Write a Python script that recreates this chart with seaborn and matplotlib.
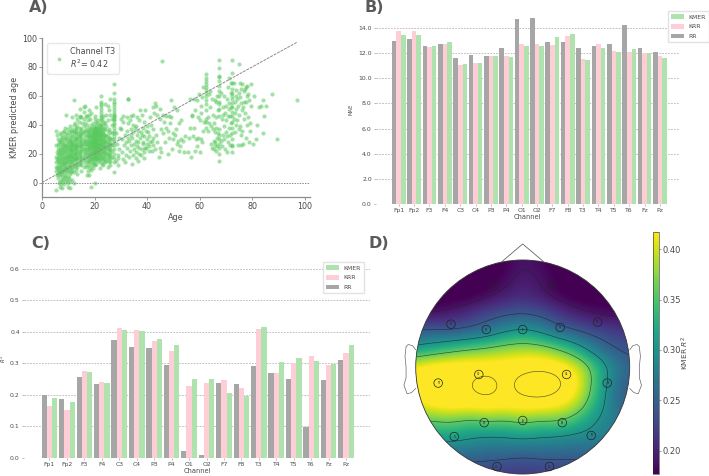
import numpy as np
import pandas as pd
import matplotlib
matplotlib.use('Agg')
import matplotlib.pyplot as plt
from matplotlib.patches import Circle, Polygon
from matplotlib.lines import Line2D
import seaborn as sns

W, H = 709, 476
TEXT = '#4a4a4a'
GREEN = '#aee3ae'
PINK = '#ffcdd6'
GREY = '#a6a6a6'

channels = ['Fp1', 'Fp2', 'F3', 'F4', 'C3', 'C4', 'P3', 'P4', 'O1', 'O2',
            'F7', 'F8', 'T3', 'T4', 'T5', 'T6', 'Fz', 'Pz']

mae_rr = [12.97, 13.1, 12.6, 12.73, 11.6, 11.85, 11.78, 12.4, 14.75, 14.8,
          12.88, 12.86, 12.4, 12.6, 12.7, 14.2, 12.4, 12.1]
mae_krr = [13.74, 13.77, 12.48, 12.73, 11.05, 11.25, 11.78, 11.8, 12.73, 12.7,
           12.65, 13.37, 11.55, 12.73, 12.18, 12.1, 12.04, 11.78]
mae_kmer = [13.45, 13.47, 12.6, 12.86, 11.17, 11.22, 11.8, 11.7, 12.57, 12.6,
            13.3, 13.53, 11.46, 12.44, 12.1, 12.3, 12.04, 11.6]

r2_rr = [.2, .186, .257, .235, .375, .352, .347, .293, .022, .008,
         .236, .234, .29, .268, .25, .097, .246, .31]
r2_krr = [.165, .153, .276, .241, .412, .404, .37, .339, .227, .239,
          .247, .221, .41, .27, .302, .324, .295, .333]
r2_kmer = [.19, .177, .273, .238, .405, .402, .376, .358, .249, .251,
           .207, .197, .416, .303, .316, .307, .299, .358]

# scatter: dense ages as columns of predictions
ages_young = [5.2, 5.7, 6.0, 6.4, 6.8, 7.2, 7.5, 7.9, 8.3, 8.7, 9.0, 9.4, 9.8, 10.1, 10.5, 10.9, 11.3, 11.6,
              12, 12.4, 12.8, 13.1, 13.5, 13.9, 14.3, 14.6, 15, 15.4, 15.8, 16.1, 16.5, 16.9]
preds_young = [
    [-5, 8, 11, 14, 18, 26, 36],
    [5, 10, 16, 21, 33],
    [3, 6, 9, 12, 15, 17, 20, 23, 26, 30],
    [0, 7, 10, 14, 19, 22, 28],
    [-3, 1, 5, 8, 11, 13, 16, 18, 21, 24, 27, 29, 34],
    [-1, 6, 10, 15, 20, 23, 30, 33],
    [-4, 2, 4, 7, 9, 12, 14, 17, 19, 22, 25, 28, 31],
    [1, 8, 13, 16, 21, 24, 27, 35],
    [-1, 3, 6, 9, 11, 13, 15, 18, 20, 23, 26, 29, 32, 36],
    [4, 10, 14, 17, 22, 25, 31, 38],
    [1, 5, 8, 10, 12, 14, 17, 19, 21, 24, 26, 30, 34, 47],
    [2, 9, 15, 18, 23, 28, 33],
    [-3, 0, 4, 7, 11, 13, 16, 18, 20, 22, 25, 27, 31, 37],
    [3, 10, 15, 19, 24, 29, 35],
    [-4, 1, 6, 9, 12, 15, 17, 19, 21, 23, 25, 28, 30, 33, 39],
    [7, 13, 18, 22, 26, 29, 36],
    [2, 8, 11, 14, 16, 18, 20, 22, 24, 26, 28, 31, 35, 45],
    [10, 15, 19, 23, 27, 32, 37],
    [0, 7, 12, 15, 17, 19, 21, 23, 25, 27, 29, 33, 36, 40, 57],
    [11, 16, 20, 24, 30, 35, 41],
    [9, 13, 16, 18, 20, 22, 24, 26, 28, 30, 34, 37, 47],
    [12, 17, 21, 25, 31, 38],
    [6, 11, 14, 17, 20, 23, 25, 27, 30, 32, 35, 39, 44],
    [13, 18, 22, 28, 33, 42],
    [13, 16, 19, 21, 24, 26, 29, 31, 34, 36, 45, 51],
    [15, 20, 25, 32, 38, 46],
    [8, 12, 15, 18, 22, 25, 28, 30, 33, 37, 45],
    [17, 23, 27, 34, 41],
    [11, 17, 20, 24, 27, 31, 35, 39, 49],
    [14, 22, 29, 36, 44, 52],
    [16, 19, 23, 26, 29, 33, 41, 53],
    [12, 21, 28, 37, 46],
]
ages_core = [17.2, 17.6, 18, 18.4, 18.7, 19.0, 19.4, 19.7, 20, 20.3, 20.7, 21.0, 21.4, 21.7, 22, 22.5,
             22.9, 23.2, 23.6, 24, 24.5, 25, 25.5, 26, 26.5, 27.5]
preds_core = [
    [5, 11, 15, 18, 21, 24, 27, 30, 33, 36, 40, 46],
    [8, 14, 19, 23, 26, 29, 32, 35, 43],
    [5, 12, 15, 17, 19, 21, 23, 25, 27, 29, 31, 33, 35, 38, 47, 50],
    [10, 16, 20, 24, 28, 32, 37, 44],
    [-3, 9, 14, 16, 18, 20, 22, 24, 26, 28, 30, 32, 34, 36, 40, 48],
    [12, 17, 21, 25, 27, 29, 31, 33, 38],
    [10, 14, 16, 18, 20, 21, 23, 24, 26, 27, 29, 30, 32, 33, 35, 37, 41],
    [13, 19, 22, 25, 28, 31, 34, 36, 39],
    [0, 12, 15, 17, 19, 21, 22, 24, 25, 27, 28, 30, 31, 33, 34, 36, 38, 44],
    [16, 20, 23, 26, 29, 32, 35, 37, 46],
    [13, 16, 18, 20, 22, 23, 25, 26, 28, 29, 31, 32, 34, 35, 37, 39, 42, 52],
    [18, 21, 24, 27, 30, 33, 36, 38, 41],
    [15, 17, 19, 21, 22, 24, 25, 27, 28, 30, 31, 33, 34, 36, 38, 43],
    [16, 20, 23, 26, 29, 32, 35, 37, 40],
    [10, 14, 17, 19, 21, 23, 24, 26, 27, 29, 30, 32, 33, 35, 37, 40],
    [16, 20, 24, 27, 30, 33, 35, 37, 39, 41, 43, 45, 47, 49, 51, 53, 54, 56, 60],
    [13, 18, 22, 25, 28, 31, 34, 38, 44],
    [12, 15, 18, 20, 22, 24, 26, 28, 30, 32, 34, 36, 40, 46],
    [16, 21, 25, 29, 33, 37, 42],
    [14, 17, 19, 21, 23, 25, 27, 29, 31, 33, 37, 41, 54],
    [15, 20, 24, 28, 32, 39, 47],
    [11, 16, 18, 20, 22, 24, 26, 28, 30, 33, 36, 43, 53],
    [14, 19, 23, 27, 31, 37, 50],
    [12, 15, 17, 19, 21, 23, 25, 27, 29, 31, 35, 47, 58],
    [18, 22, 26, 30, 34, 40, 44],
    [7, 14, 17, 20, 23, 26, 28, 30, 32, 34, 36, 38, 40, 41, 43, 44, 45, 46, 47, 48, 50, 52, 54, 56, 58, 62, 68],
]
# sparser ages as single (age, prediction) readings
points_mid = [
    (28.3, 15), (28.9, 19), (29.4, 23), (28.6, 27), (29.2, 31), (28.1, 34), (29.7, 38), (28.8, 12), (29.1, 17),
    (29.9, 44), (30.3, 21), (30.8, 16), (31.2, 26), (30.6, 30), (31.4, 33), (30.1, 37), (31.0, 46), (30.9, 42),
    (31.7, 14), (32.1, 19), (32.4, 24), (31.9, 28), (32.6, 31), (32.2, 36), (32.7, 41), (32.3, 45), (32.6, 58), (32.9, 58),
    (33.1, 18), (33.4, 22), (33.8, 26), (33.2, 29), (33.7, 33), (34.0, 37), (33.5, 43), (33.9, 46),
    (34.3, 13), (34.6, 19), (34.9, 23), (35.1, 27), (34.4, 31), (34.8, 35), (35.3, 38), (34.7, 40), (34.5, 47),
    (35.6, 17), (35.9, 21), (36.2, 25), (35.7, 29), (36.1, 33), (36.4, 36), (35.8, 39), (36.3, 45), (36.6, 15),
    (36.9, 20), (37.1, 24), (36.7, 28), (37.3, 31), (37.6, 35), (37.0, 43), (37.4, 50), (37.7, 19), (38.0, 23),
    (38.3, 27), (37.9, 33), (38.4, 38), (38.1, 47), (38.7, 17), (38.9, 21), (39.2, 24), (38.6, 28), (39.0, 32),
    (39.4, 36), (38.8, 42), (39.1, 50), (39.7, 24), (40.1, 27), (39.8, 30), (40.3, 35), (39.9, 39), (40.6, 22),
    (40.9, 25), (41.2, 28), (40.7, 32), (41.3, 40), (41.0, 45), (41.8, 22), (42.2, 26), (41.9, 29), (42.4, 31),
    (42.1, 37), (42.6, 48), (42.3, 52), (43.1, 23), (43.7, 28), (43.4, 33), (43.9, 47), (43.2, 53), (42.9, 55),
    (44.6, 18), (45.2, 21), (44.8, 24), (45.4, 37), (45.1, 44), (46.0, 47), (44.9, 51), (45.6, 84),
    (46.8, 28), (46.2, 34), (47.1, 38), (46.6, 42), (47.3, 46), (49.0, 57), (48.1, 20), (48.4, 31), (47.9, 36),
    (48.6, 41), (48.2, 46), (49.4, 23), (49.7, 30), (50.0, 34), (49.2, 45), (50.3, 52), (51.2, 27), (51.6, 29),
    (50.8, 33), (51.0, 37), (51.4, 50), (52.3, 22), (52.6, 25), (53.0, 30), (52.1, 41), (52.9, 43), (54.1, 21),
    (53.6, 29), (54.3, 32), (56.2, 58), (55.4, 21), (55.8, 31), (57.2, 46), (56.8, 18), (57.5, 32), (56.4, 38),
    (57.8, 38), (57.0, 47), (57.9, 58), (58.3, 22), (58.7, 30), (58.1, 50), (59.0, 25), (59.4, 31), (59.2, 45),
    (58.9, 57), (59.6, 61), (60.2, 21), (60.5, 30), (60.1, 43), (60.4, 48), (60.7, 53), (61.0, 28), (61.3, 36),
    (61.5, 42), (60.9, 59), (61.2, 66),
]
points_old = [
    (62.5, 38), (62.5, 42), (62.5, 44), (62.5, 50), (62.5, 54), (62.5, 57), (62.5, 60), (62.5, 62), (62.5, 64),
    (62.5, 66), (62.5, 68), (62.5, 70), (62.5, 72), (62.5, 75), (63.3, 36), (63.7, 41), (63.1, 45), (63.9, 52),
    (63.5, 61), (64.6, 24), (64.2, 27), (64.9, 37), (64.4, 39), (65.0, 47), (64.7, 58), (64.1, 63), (65.6, 23),
    (65.9, 26), (65.3, 29), (65.7, 35), (66.1, 38), (65.4, 41), (65.8, 57), (66.3, 22), (66.7, 25), (66.0, 28),
    (66.5, 31), (66.9, 34), (66.4, 45), (66.8, 50), (66.2, 56), (66.6, 60),
    (67.5, 15), (67.5, 20), (67.5, 24), (67.5, 27), (67.5, 30), (67.5, 33), (67.5, 37), (67.5, 46), (67.5, 51),
    (67.5, 54), (67.5, 56), (67.5, 60), (67.5, 63), (67.5, 67), (67.5, 70), (67.5, 73), (67.5, 74), (67.5, 79), (67.5, 85),
    (68.6, 25), (68.2, 29), (68.9, 33), (68.4, 44), (69.0, 47), (68.7, 52), (68.1, 62), (69.6, 23), (69.3, 30),
    (69.9, 35), (69.4, 39), (70.1, 43), (69.7, 48), (70.0, 53), (69.2, 60), (70.6, 21), (70.9, 28), (70.3, 32),
    (71.0, 38), (70.7, 46), (71.2, 51), (70.4, 58), (70.8, 66), (71.1, 72), (71.7, 26), (71.4, 33), (71.9, 41),
    (71.6, 46), (72.0, 52), (71.3, 55), (71.8, 62), (72.1, 69),
    (72.5, 21), (72.5, 25), (72.5, 26), (72.5, 30), (72.5, 34), (72.5, 38), (72.5, 42), (72.5, 46), (72.5, 49),
    (72.5, 52), (72.5, 55), (72.5, 58), (72.5, 60), (72.5, 62), (72.5, 65), (72.5, 69), (72.5, 76), (72.5, 85),
    (73.4, 35), (73.8, 40), (73.2, 44), (73.6, 48), (74.0, 51), (73.3, 56), (73.9, 60), (73.7, 64), (73.1, 69),
    (74.6, 26), (74.9, 37), (74.3, 43), (75.0, 47), (74.7, 53), (74.2, 58), (74.8, 62), (75.0, 82), (75.6, 26),
    (75.9, 33), (75.3, 39), (76.0, 50), (75.7, 55), (75.4, 59), (75.8, 65), (75.2, 69), (76.6, 27), (76.2, 36),
    (76.9, 44), (76.4, 52), (77.0, 56), (76.7, 63), (76.3, 68), (77.6, 31), (77.9, 40), (77.2, 48), (77.7, 56),
    (78.1, 60), (77.4, 65), (77.8, 66), (78.6, 28), (78.3, 45), (78.9, 57), (78.4, 61), (78.2, 67), (79.3, 36),
    (79.0, 41), (79.5, 53), (79.7, 68), (80.4, 27), (81.3, 30), (81.8, 40), (80.8, 60), (82.6, 52), (83.4, 53),
    (84.2, 34), (84.6, 46), (84.3, 57), (85.3, 53), (87.5, 61), (89.3, 30), (97, 57),
]

# topomap: KMER R2 on a coarse grid, top row first
topo_rows = [
    [.170, .170, .170, .170, .170, .175, .190, .182, .170, .170, .170, .170, .170],
    [.170, .170, .170, .170, .170, .182, .196, .188, .175, .170, .170, .170, .170],
    [.170, .170, .170, .172, .182, .196, .206, .195, .178, .170, .170, .170, .170],
    [.186, .186, .195, .210, .228, .238, .242, .235, .215, .198, .186, .182, .182],
    [.250, .250, .246, .252, .268, .295, .310, .292, .260, .245, .232, .222, .215],
    [.310, .325, .345, .360, .370, .382, .388, .384, .362, .325, .278, .248, .236],
    [.420, .440, .440, .440, .436, .436, .440, .445, .436, .410, .350, .288, .252],
    [.445, .450, .450, .450, .478, .440, .472, .490, .470, .425, .350, .278, .242],
    [.410, .435, .442, .440, .442, .438, .440, .440, .428, .400, .335, .275, .240],
    [.355, .360, .365, .352, .365, .358, .372, .360, .365, .340, .302, .280, .262],
    [.310, .310, .310, .300, .290, .295, .302, .295, .290, .285, .285, .272, .262],
    [.258, .258, .258, .258, .254, .250, .243, .250, .250, .250, .250, .250, .250],
    [.220, .220, .220, .220, .220, .218, .218, .218, .218, .220, .220, .220, .220],
]
topo_levels = [.19, .245, .30, .36, .452]

el_names = ['Fp1', 'Fp2', 'F7', 'F3', 'Fz', 'F4', 'F8', 'T3', 'C3', 'C4', 'T4',
            'T5', 'P3', 'Pz', 'P4', 'T6', 'O1', 'O2']
el_x = [-.27, .27, -.67, -.34, 0, .35, .70, -.79, -.41, .41, .79, -.64, -.36, 0, .37, .64, -.24, .25]
el_y = [.76, .77, .40, .35, .35, .37, .42, -.15, -.07, -.07, -.15, -.65, -.52, -.50, -.52, -.64, -.93, -.93]


def px_axes(fig, left, top, right, bottom):
    return fig.add_axes([left / W, 1 - bottom / H, (right - left) / W, (bottom - top) / H])


def smooth_grid(rows, n=260, passes=2, box=19):
    z = np.array(rows)
    src = np.linspace(-1, 1, z.shape[0])
    dst = np.linspace(-1, 1, n)
    z = np.array([np.interp(dst, src, r) for r in z])
    z = np.array([np.interp(dst, src, c) for c in z.T]).T
    k = np.ones(box) / box
    pad = box // 2
    for _ in range(passes):
        z = np.pad(z, pad, mode='edge')
        z = np.apply_along_axis(lambda a: np.convolve(a, k, mode='valid'), 0, z)
        z = np.apply_along_axis(lambda a: np.convolve(a, k, mode='valid'), 1, z)
    return dst, z


def draw_bars(ax, rr, krr, kmer, ylim, yticks, fmt, ylabel, legend_box, label_x):
    df = pd.DataFrame({
        'Channel': channels * 3,
        'value': rr + krr + kmer,
        'model': ['RR'] * 18 + ['KRR'] * 18 + ['KMER'] * 18,
    })
    sns.barplot(data=df, x='Channel', y='value', hue='model', hue_order=['RR', 'KRR', 'KMER'],
                palette={'RR': GREY, 'KRR': PINK, 'KMER': GREEN}, width=0.9, saturation=1,
                errorbar=None, ax=ax, zorder=3, linewidth=0, edgecolor='none')
    ax.set_ylim(*ylim)
    ax.set_yticks(yticks)
    ax.set_yticklabels([fmt % t for t in yticks])
    ax.grid(axis='y', color='#b5b5b5', linestyle=(0, (2, 1.5)), linewidth=0.6)
    ax.set_axisbelow(True)
    sns.despine(ax=ax, left=True, bottom=True)
    ax.tick_params(axis='both', labelsize=4.4, length=1.5, width=0.4, pad=1.5, colors=TEXT, color='#888888',
                   left=True, bottom=True)
    ax.set_xlabel('Channel', fontsize=4.8, color=TEXT, labelpad=0.5)
    ax.set_ylabel(ylabel, fontsize=3.8, color=TEXT)
    ax.yaxis.set_label_coords(label_x, 0.5)
    h, l = ax.get_legend_handles_labels()
    ax.legend(h[::-1], l[::-1], loc='upper left', bbox_to_anchor=(legend_box[0] / W, 1 - legend_box[1] / H),
              bbox_transform=fig.transFigure, fontsize=4.4, labelcolor=TEXT, frameon=True, framealpha=1,
              edgecolor='#e2e2e2', fancybox=False, borderpad=0.5, labelspacing=0.72, handlelength=2.1,
              handleheight=0.8, handletextpad=0.8, borderaxespad=0)


sns.set_theme(style='white')
fig = plt.figure(figsize=(W / 100, H / 100), dpi=100)

# A) scatter
ax_a = px_axes(fig, 42, 38, 310, 197)
ages = np.concatenate([np.repeat(ages_young, [len(c) for c in preds_young]),
                       np.repeat(ages_core, [len(c) for c in preds_core]),
                       [p[0] for p in points_mid], [p[0] for p in points_old]])
preds = np.concatenate([np.concatenate(preds_young), np.concatenate(preds_core),
                        [p[1] for p in points_mid], [p[1] for p in points_old]])
sns.scatterplot(x=ages, y=preds, ax=ax_a, s=9, color='#58c95d', alpha=0.55, linewidth=0, zorder=2)
ax_a.plot([0, 97], [0, 97], color='#8c8c8c', linestyle=(0, (3, 1)), linewidth=0.7, zorder=3)
ax_a.plot([0, 102], [0, 0], color='#8c8c8c', linestyle=(0, (1.5, 1.2)), linewidth=0.7, zorder=3)
ax_a.set_xlim(0, 102)
ax_a.set_ylim(-10, 100)
ax_a.set_xticks([0, 20, 40, 60, 80, 100])
ax_a.set_yticks([0, 20, 40, 60, 80, 100])
sns.despine(ax=ax_a)
for s in ('left', 'bottom'):
    ax_a.spines[s].set_color('#8c8c8c')
    ax_a.spines[s].set_linewidth(0.9)
ax_a.tick_params(labelsize=5.8, length=2, width=0.6, pad=1.5, labelcolor=TEXT, color='#8c8c8c', left=True, bottom=True)
ax_a.set_xlabel('Age', fontsize=5.8, color=TEXT, labelpad=1.5)
ax_a.set_ylabel('KMER predicted age', fontsize=5.8, color=TEXT, labelpad=2)
leg_h = Line2D([], [], marker='o', linestyle='', color='#58c95d', alpha=0.55, markersize=2.8, markeredgewidth=0)
ax_a.legend([leg_h], ['Channel T3\n$R^2$= 0.42'], loc='upper left', bbox_to_anchor=(47 / W, 1 - 43 / H),
            bbox_transform=fig.transFigure, fontsize=5.8, labelcolor=TEXT, frameon=True, edgecolor='#e8e8e8',
            framealpha=1, fancybox=True, borderaxespad=0, borderpad=0.45, labelspacing=0.1, handletextpad=0.4)

# B) MAE bars
ax_b = px_axes(fig, 376, 15, 679, 204)
draw_bars(ax_b, mae_rr, mae_krr, mae_kmer, (0, 15.03), [0, 2, 4, 6, 8, 10, 12, 14], '%.1f', 'MAE', (668, 11),
          (354 - 376) / 303)
ax_b.set_xlim(-1.48, 18.24)

# C) R2 bars
ax_c = px_axes(fig, 24, 260, 370, 458)
draw_bars(ax_c, r2_rr, r2_krr, r2_kmer, (0, 0.627), [0, .1, .2, .3, .4, .5, .6], '%.1f', '$R^2$', (323, 262),
          (8 - 24) / 346)
ax_c.set_xlim(-1.46, 18.37)

# D) topomap
cx, cy, rad = 522.7, 367, 107
ax_d = px_axes(fig, 395, 236, 650, 476)
grid, field = smooth_grid(topo_rows)
vmin, vmax = 0.177, 0.417
img = ax_d.imshow(field, extent=(-1, 1, -1, 1), origin='upper', cmap='viridis', vmin=vmin, vmax=vmax,
                  interpolation='bilinear', zorder=1)
ax_d.set_xlim((395 - cx) / rad, (650 - cx) / rad)
ax_d.set_ylim((cy - 476) / rad, (cy - 236) / rad)
ax_d.axis('off')
ax_d.add_patch(Circle((0, 0), 1, facecolor='none', edgecolor='#333333', linewidth=0.6, zorder=5))
img.set_clip_path(Circle((0, 0), 1, transform=ax_d.transData))
cs = ax_d.contour(grid, grid[::-1], field, levels=topo_levels, colors='#222222', linewidths=0.45, alpha=0.75, zorder=2)
cs.set_clip_path(Circle((0, 0), 1, transform=ax_d.transData))
ax_d.add_patch(Polygon([[-.2, .98], [0, 1.15], [.2, .98]], closed=False, fill=False, edgecolor='#666666', linewidth=0.6))
ear_x = [1.0, 1.03, 1.07, 1.09, 1.1, 1.09, 1.09, 1.11, 1.08, 1.04, 1.0]
ear_y = [.16, .2, .21, .19, .1, 0, -.1, -.17, -.25, -.24, -.2]
ax_d.plot(ear_x, ear_y, color='#666666', linewidth=0.5)
ax_d.plot(-np.array(ear_x), ear_y, color='#666666', linewidth=0.5)
for n, x, y in zip(el_names, el_x, el_y):
    ax_d.add_patch(Circle((x, y), 0.04, fill=False, edgecolor='#222222', linewidth=0.5, zorder=6))
    ax_d.text(x, y, n, fontsize=1.8, ha='center', va='center', color='#222222', zorder=6)

cax = px_axes(fig, 653, 232, 659, 474)
cb = fig.colorbar(img, cax=cax)
cb.set_ticks([.20, .25, .30, .35, .40])
cb.set_ticklabels(['0.20', '0.25', '0.30', '0.35', '0.40'])
cb.ax.tick_params(labelsize=6, length=1.5, width=0.4, pad=1, labelcolor=TEXT, color='#555555', right=True)
cb.outline.set_linewidth(0.4)
cb.set_label('KMER $R^2$', fontsize=5.4, color=TEXT, labelpad=-1)

for label, x, y in [('A)', 29, 8), ('B)', 364, 8), ('C)', 31, 244), ('D)', 369, 244)]:
    fig.text(x / W, 1 - y / H, label, fontsize=11.5, fontweight='bold', color='#5a5a5a', ha='left', va='center')

fig.savefig('out.png', dpi=100)
